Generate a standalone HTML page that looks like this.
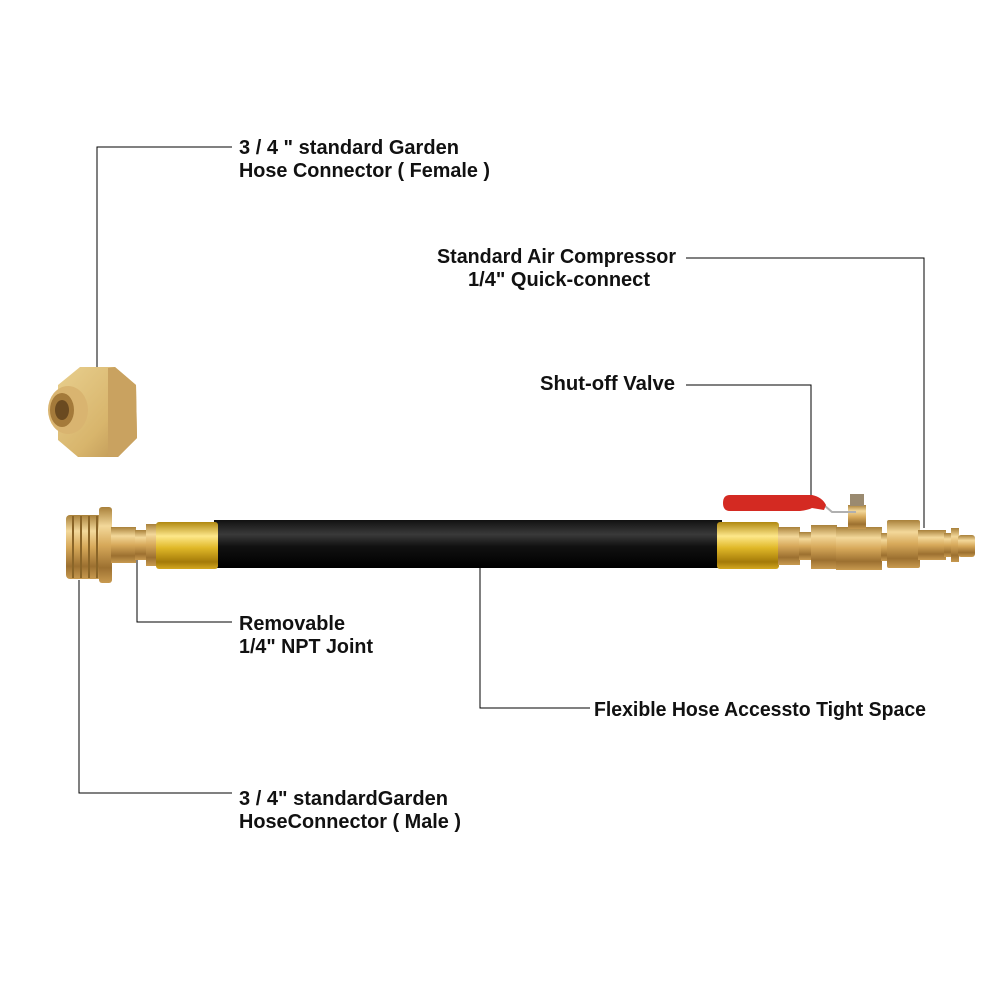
<!DOCTYPE html>
<html><head><meta charset="utf-8"><style>
html,body{margin:0;padding:0;background:#fff;}
svg{display:block;}
text{font-family:"Liberation Sans",sans-serif;font-weight:bold;font-size:20px;fill:#111;}
</style></head><body>
<svg width="1001" height="1001" viewBox="0 0 1001 1001" xmlns="http://www.w3.org/2000/svg">
<defs>
<linearGradient id="brass" x1="0" y1="0" x2="0" y2="1">
<stop offset="0" stop-color="#a8803a"/><stop offset="0.25" stop-color="#f3d89a"/><stop offset="0.5" stop-color="#d7a95a"/><stop offset="0.8" stop-color="#9c7030"/><stop offset="1" stop-color="#c89a50"/>
</linearGradient>
<linearGradient id="gold" x1="0" y1="0" x2="0" y2="1">
<stop offset="0" stop-color="#b08810"/><stop offset="0.3" stop-color="#fde78a"/><stop offset="0.55" stop-color="#e0b828"/><stop offset="0.85" stop-color="#a47a08"/><stop offset="1" stop-color="#d4a820"/>
</linearGradient>
<linearGradient id="hose" x1="0" y1="0" x2="0" y2="1">
<stop offset="0" stop-color="#111"/><stop offset="0.3" stop-color="#3a3a3a"/><stop offset="0.55" stop-color="#111"/><stop offset="1" stop-color="#000"/>
</linearGradient>
<linearGradient id="nut" x1="0" y1="0" x2="1" y2="1">
<stop offset="0" stop-color="#e8cf8e"/><stop offset="0.6" stop-color="#d8b56c"/><stop offset="1" stop-color="#b89050"/>
</linearGradient>
</defs>
<g stroke="#000" stroke-width="1" fill="none">
<polyline points="97,368 97,147 232,147"/>
<polyline points="686,258 924,258 924,528"/>
<polyline points="686,385 811,385 811,498"/>
<polyline points="137,560 137,622 232,622"/>
<polyline points="480,557 480,708 590,708"/>
<polyline points="79,580 79,793 232,793"/>
</g>
<!-- female nut -->
<polygon points="80,367 115,367 136,385 137,438 118,457 78,457 58,440 58,385" fill="url(#nut)"/>
<polygon points="108,368 115,367 136,385 137,438 118,457 108,456" fill="#c9a260"/>
<ellipse cx="68" cy="410" rx="20" ry="24" fill="#d9b470"/>
<ellipse cx="62" cy="410" rx="12" ry="17" fill="#a47a3a"/>
<ellipse cx="62" cy="410" rx="7" ry="10" fill="#6a4a20"/>
<!-- hose -->
<rect x="214" y="520" width="508" height="48" fill="url(#hose)"/>
<!-- left fitting -->
<rect x="66" y="515" width="36" height="64" rx="4" fill="url(#brass)"/>
<g stroke="#8a6528" stroke-width="2"><line x1="73" y1="516" x2="73" y2="578"/><line x1="81" y1="516" x2="81" y2="578"/><line x1="89" y1="516" x2="89" y2="578"/><line x1="97" y1="516" x2="97" y2="578"/></g>
<rect x="99" y="507" width="13" height="76" rx="3" fill="url(#brass)"/>
<rect x="111" y="527" width="25" height="36" fill="url(#brass)"/>
<rect x="135" y="530" width="12" height="30" fill="url(#brass)"/>
<rect x="146" y="524" width="12" height="42" fill="url(#brass)"/>
<rect x="156" y="522" width="62" height="47" rx="3" fill="url(#gold)"/>
<!-- right fitting -->
<rect x="717" y="522" width="62" height="47" rx="3" fill="url(#gold)"/>
<rect x="778" y="527" width="22" height="38" fill="url(#brass)"/>
<rect x="799" y="532" width="14" height="28" fill="url(#brass)"/>
<rect x="811" y="525" width="26" height="44" fill="url(#brass)"/>
<rect x="836" y="527" width="46" height="43" fill="url(#brass)"/>
<rect x="848" y="505" width="18" height="24" fill="url(#brass)"/>
<rect x="850" y="494" width="14" height="12" fill="#9a8a70"/>
<path d="M825,506 L832,512 L856,512" stroke="#b0b0b0" stroke-width="2" fill="none"/>
<path d="M730,495 L812,495 Q822,497 826,505 L824,510 L812,508 Q808,510 800,511 L730,511 Q723,511 723,503 Q723,495 730,495Z" fill="#d42a22"/>
<rect x="881" y="533" width="8" height="28" fill="url(#brass)"/>
<rect x="887" y="520" width="33" height="48" rx="2" fill="url(#brass)"/>
<rect x="918" y="530" width="28" height="30" fill="url(#brass)"/>
<rect x="944" y="533" width="8" height="24" fill="url(#brass)"/>
<rect x="951" y="528" width="8" height="34" fill="url(#brass)"/>
<rect x="958" y="535" width="17" height="22" rx="3" fill="url(#brass)"/>
<!-- labels -->
<text x="239" y="154" textLength="220" lengthAdjust="spacingAndGlyphs">3 / 4 " standard Garden</text>
<text x="239" y="177" textLength="251" lengthAdjust="spacingAndGlyphs">Hose Connector ( Female )</text>
<text x="437" y="263" textLength="239" lengthAdjust="spacingAndGlyphs">Standard Air Compressor</text>
<text x="468" y="286" textLength="182" lengthAdjust="spacingAndGlyphs">1/4" Quick-connect</text>
<text x="540" y="390" textLength="135" lengthAdjust="spacingAndGlyphs">Shut-off Valve</text>
<text x="239" y="630" textLength="106" lengthAdjust="spacingAndGlyphs">Removable</text>
<text x="239" y="653" textLength="134" lengthAdjust="spacingAndGlyphs">1/4" NPT Joint</text>
<text x="594" y="716" textLength="332" lengthAdjust="spacingAndGlyphs">Flexible Hose Accessto Tight Space</text>
<text x="239" y="805" textLength="209" lengthAdjust="spacingAndGlyphs">3 / 4" standardGarden</text>
<text x="239" y="828" textLength="222" lengthAdjust="spacingAndGlyphs">HoseConnector ( Male )</text>
</svg>
</body></html>
